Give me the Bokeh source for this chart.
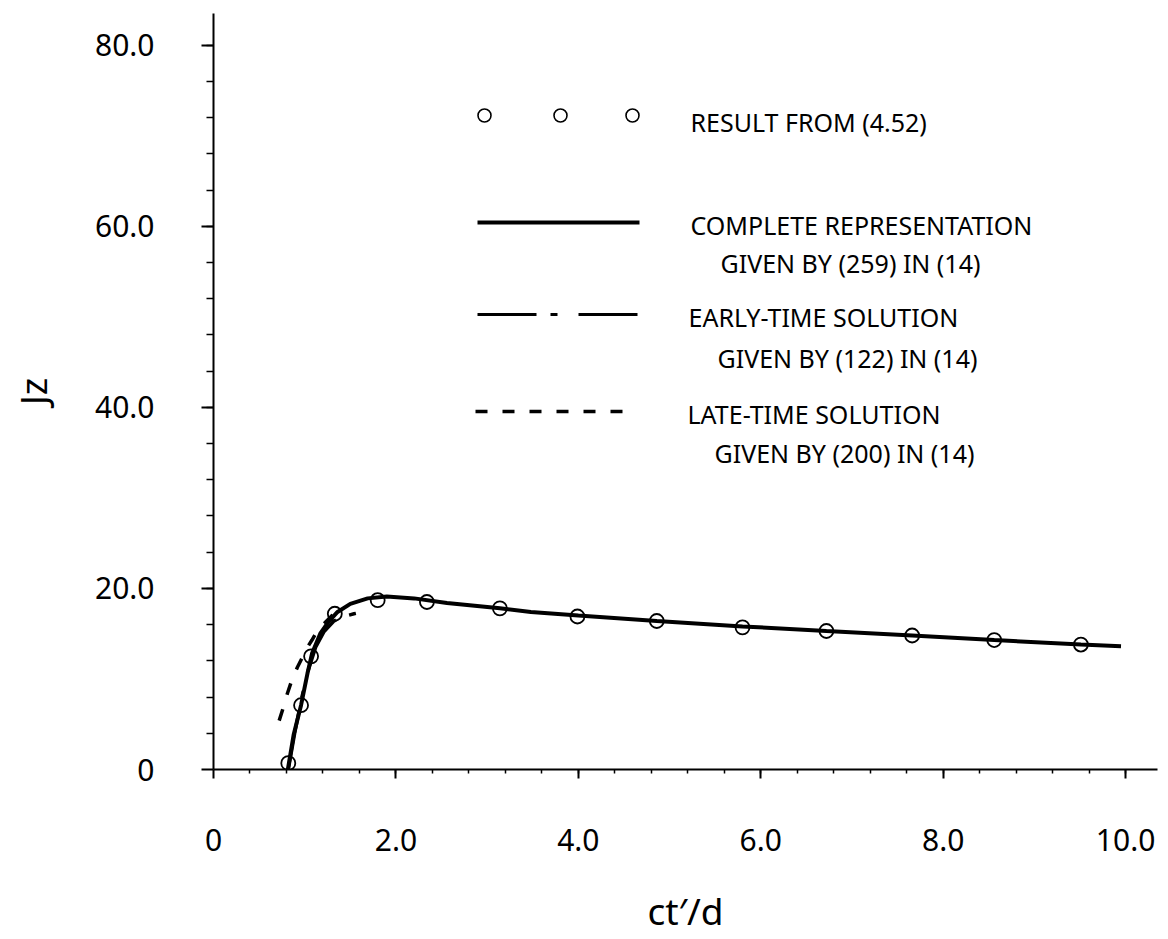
from bokeh.plotting import figure
from bokeh.models import Range1d, FixedTicker, Label
from bokeh.embed import file_html
from bokeh.resources import INLINE

# ---------------- data ----------------
result_x = [0.82, 0.96, 1.07, 1.33, 1.80, 2.34, 3.14, 3.99, 4.86, 5.80, 6.72, 7.66, 8.56, 9.51]
result_y = [0.7, 7.1, 12.5, 17.2, 18.7, 18.5, 17.8, 16.9, 16.4, 15.7, 15.3, 14.8, 14.3, 13.8]

complete_x = [0.815, 0.88, 0.96, 1.03, 1.08, 1.17, 1.26, 1.36, 1.50, 1.69, 1.90, 2.20, 2.56,
              3.14, 3.48, 4.0, 4.86, 5.8, 6.72, 7.66, 8.56, 9.51, 9.95]
complete_y = [0.0, 3.9, 7.1, 10.6, 12.8, 15.0, 16.3, 17.4, 18.3, 18.9, 19.1, 18.9, 18.4,
              17.8, 17.4, 17.0, 16.4, 15.8, 15.3, 14.8, 14.3, 13.8, 13.6]

early_x = [0.82, 0.89, 0.96, 1.04, 1.12, 1.21, 1.32, 1.43, 1.54, 1.64, 1.74]
early_y = [0.0, 4.0, 7.6, 11.0, 13.5, 15.2, 16.4, 16.9, 17.2, 17.4, 17.6]

late_x = [0.72, 0.77, 0.81, 0.86, 0.92, 0.98, 1.03, 1.08, 1.12, 1.20, 1.30, 1.42]
late_y = [5.4, 7.0, 8.4, 9.9, 11.3, 12.5, 13.5, 14.3, 15.0, 16.0, 17.0, 17.7]

x_ticks = [0, 2, 4, 6, 8, 10]
x_tick_labels = ["0", "2.0", "4.0", "6.0", "8.0", "10.0"]
y_ticks = [0, 20, 40, 60, 80]
y_tick_labels = ["0", "20.0", "40.0", "60.0", "80.0"]

x_title = "ct\u2032/d"
y_title = "Jz"

legend_texts = [
    "RESULT FROM (4.52)",
    "COMPLETE REPRESENTATION",
    "GIVEN BY (259) IN (14)",
    "EARLY-TIME SOLUTION",
    "GIVEN BY (122) IN (14)",
    "LATE-TIME SOLUTION",
    "GIVEN BY (200) IN (14)",
]

# ---------------- layout ----------------
FONT = "Noto Sans"
X_END, Y_END = 10.35, 83.5
W, H = 1160, 939
BL, BR, BT, BB = 213, 3, 13, 170
FW, FH = W - BL - BR, H - BT - BB


def px2x(px):
    return (px - BL) * X_END / FW


def py2y(py):
    return (BT + FH - py) * Y_END / FH


p = figure(width=W, height=H, output_backend="svg", toolbar_location=None,
           x_range=Range1d(0, X_END), y_range=Range1d(0, Y_END),
           min_border_left=BL, min_border_right=BR, min_border_top=BT, min_border_bottom=BB)
p.outline_line_color = None
p.xgrid.visible = False
p.ygrid.visible = False
p.background_fill_color = "white"
p.border_fill_color = "white"

p.xaxis.ticker = FixedTicker(ticks=x_ticks, minor_ticks=[round(0.4 * i, 2) for i in range(1, 26)])
p.yaxis.ticker = FixedTicker(ticks=y_ticks, minor_ticks=[4 * i for i in range(1, 21)])
p.xaxis.major_label_overrides = {t: l for t, l in zip(x_ticks, x_tick_labels)}
p.yaxis.major_label_overrides = {t: l for t, l in zip(y_ticks, y_tick_labels)}

for ax in (p.xaxis, p.yaxis):
    ax.axis_line_color = "black"
    ax.axis_line_width = 2
    ax.major_tick_line_color = "black"
    ax.major_tick_line_width = 2
    ax.minor_tick_line_color = "black"
    ax.minor_tick_line_width = 1.5
    ax.major_tick_in = 0
    ax.minor_tick_in = 0
    ax.major_label_text_font = FONT
    ax.major_label_text_font_size = "30px"
    ax.major_label_text_color = "black"
    ax.axis_label_text_font = FONT
    ax.axis_label_text_font_size = "37px"
    ax.axis_label_text_font_style = "normal"
    ax.axis_label_text_color = "black"

p.xaxis.major_tick_out = 9
p.xaxis.minor_tick_out = 4
p.yaxis.major_tick_out = 12
p.yaxis.minor_tick_out = 7
p.xaxis.major_label_standoff = 50
p.yaxis.major_label_standoff = 47
p.xaxis.axis_label = x_title
p.yaxis.axis_label = y_title
p.xaxis.axis_label_standoff = 31
p.yaxis.axis_label_standoff = 34

# ---------------- curves ----------------
p.line(late_x, late_y, line_color="black", line_width=3.5, line_dash="12 15")
p.line(early_x, early_y, line_color="black", line_width=3.5, line_dash="59 14 7 21")
p.line(complete_x, complete_y, line_color="black", line_width=4)
p.scatter(result_x, result_y, marker="circle", size=14, fill_color=None,
          line_color="black", line_width=1.8)

# ---------------- legend (drawn to match the reference layout) ----------------
p.scatter([px2x(484), px2x(560), px2x(632)], [py2y(115)] * 3, marker="circle", size=13,
          fill_color=None, line_color="black", line_width=1.6)
p.line([px2x(477), px2x(639)], [py2y(222)] * 2, line_color="black", line_width=4)
p.line([px2x(477), px2x(637)], [py2y(314)] * 2, line_color="black", line_width=3,
       line_dash="59 14 7 21")
p.line([px2x(475), px2x(622)], [py2y(411)] * 2, line_color="black", line_width=3.5,
       line_dash="12 15")

text_pos = [(690, 121), (690, 224), (720, 262), (688, 316), (717, 357), (687, 413), (714, 452)]
for (tx, ty), txt in zip(text_pos, legend_texts):
    p.add_layout(Label(x=px2x(tx), y=py2y(ty), text=txt, text_align="left",
                       text_baseline="middle", text_font=FONT, text_font_size="25px",
                       text_color="black"))

open("out.html", "w").write(file_html(p, INLINE))
